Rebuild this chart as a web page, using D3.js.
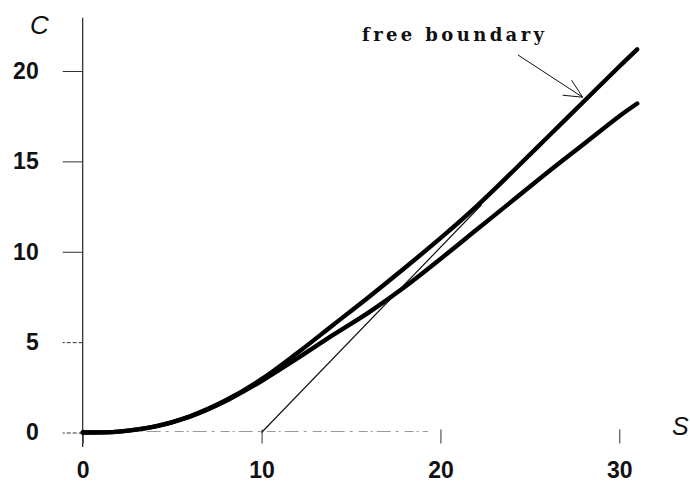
<!DOCTYPE html>
<html>
<head>
<meta charset="utf-8">
<script src="https://cdn.jsdelivr.net/npm/d3@7"></script>
<style>
  body { margin: 0; background: #fff; }
  svg { display: block; }
</style>
</head>
<body>
<div id="chart"></div>
<script>
// Datos
const sValues = [0, 2, 4, 6, 8, 10, 12, 14, 16, 18, 20, 22, 24, 26, 28, 30, 31];
const americanValues = [0, 0.05, 0.32, 0.9, 1.78, 2.95, 4.4, 5.95, 7.5, 9.1, 10.75, 12.5, 14.4, 16.35, 18.3, 20.25, 21.2];
const europeanValues = [0, 0.05, 0.32, 0.88, 1.74, 2.85, 4.1, 5.4, 6.65, 8.05, 9.6, 11.2, 12.8, 14.4, 15.95, 17.5, 18.2];
const payoffS = [10, 22.3];
const payoffValues = [0, 12.6];
const xTickValues = [0, 10, 20, 30];
const yTickValues = [0, 5, 10, 15, 20];

const width = 690;
const height = 482;

const svg = d3.select('#chart').append('svg')
    .attr('width', width)
    .attr('height', height);

// Escalas
const x = d3.scaleLinear().domain([0, 30]).range([82.7, 619.3]);
const y = d3.scaleLinear().domain([0, 20]).range([432.5, 71]);

// Eje x (línea tenue punteada)
svg.append('line')
    .attr('x1', x(0)).attr('x2', x(19.3))
    .attr('y1', y(0) - 1).attr('y2', y(0) - 1)
    .attr('stroke', '#999')
    .attr('stroke-width', 1)
    .attr('stroke-dasharray', '9,3,2,4,14,5,3,6');

// Eje y
svg.append('line')
    .attr('x1', x(0)).attr('x2', x(0))
    .attr('y1', y(22.95)).attr('y2', y(-0.8))
    .attr('stroke', '#222')
    .attr('stroke-width', 1.2);

const yAxis = svg.append('g')
    .attr('transform', `translate(${x(0)},0)`)
    .call(d3.axisLeft(y).tickValues(yTickValues).tickSize(20).tickPadding(24));
yAxis.select('.domain').remove();
yAxis.selectAll('.tick line')
    .attr('stroke', '#333')
    .attr('stroke-dasharray', d => d < 10 ? '4,2' : null);
yAxis.selectAll('.tick text')
    .attr('font-family', '"Liberation Sans", Arial, sans-serif')
    .attr('font-weight', 'bold')
    .attr('font-size', '23px')
    .attr('fill', '#111');

const xAxis = svg.append('g')
    .attr('transform', `translate(0,${y(0) - 3})`)
    .call(d3.axisBottom(x).tickValues(xTickValues).tickSize(14).tickPadding(18));
xAxis.select('.domain').remove();
xAxis.selectAll('.tick line').attr('stroke', '#333');
xAxis.selectAll('.tick text')
    .attr('font-family', '"Liberation Sans", Arial, sans-serif')
    .attr('font-weight', 'bold')
    .attr('font-size', '23px')
    .attr('fill', '#111');

// Etiquetas de los ejes
svg.append('text')
    .attr('x', 39.5).attr('y', 34)
    .attr('text-anchor', 'middle')
    .attr('font-family', '"Liberation Sans", Arial, sans-serif')
    .attr('font-style', 'italic')
    .attr('font-size', '26px')
    .attr('fill', '#111')
    .text('C');

svg.append('text')
    .attr('x', 672).attr('y', 435)
    .attr('font-family', '"Liberation Sans", Arial, sans-serif')
    .attr('font-style', 'italic')
    .attr('font-size', '25px')
    .attr('fill', '#111')
    .text('S');

// Curvas
const line = d3.line()
    .x((d, i) => x(sValues[i]))
    .y(d => y(d))
    .curve(d3.curveCatmullRom.alpha(0.5));

// Recta del pago S - E
svg.append('path')
    .datum(payoffValues)
    .attr('d', d3.line().x((d, i) => x(payoffS[i])).y(d => y(d)))
    .attr('fill', 'none')
    .attr('stroke', '#111')
    .attr('stroke-width', 1.2);

[europeanValues, americanValues].forEach(values => {
    svg.append('path')
        .datum(values)
        .attr('d', line)
        .attr('fill', 'none')
        .attr('stroke', '#000')
        .attr('stroke-width', 4.4)
        .attr('stroke-linecap', 'round');
});

// Anotación "free boundary"
svg.append('text')
    .attr('x', 362).attr('y', 40.5)
    .attr('font-family', '"DejaVu Serif", serif')
    .attr('font-weight', 'bold')
    .attr('font-size', '18px')
    .attr('textLength', 182)
    .attr('lengthAdjust', 'spacing')
    .attr('fill', '#111')
    .text('free boundary');

const tip = [x(27.95), y(18.55)];
const tail = [518, 55];
svg.append('line')
    .attr('x1', tail[0]).attr('y1', tail[1])
    .attr('x2', tip[0]).attr('y2', tip[1])
    .attr('stroke', '#111')
    .attr('stroke-width', 1);
svg.append('path')
    .attr('d', `M${tip[0] - 11},${tip[1] - 17} L${tip[0]},${tip[1]} L${tip[0] - 20},${tip[1] - 2}`)
    .attr('fill', 'none')
    .attr('stroke', '#111')
    .attr('stroke-width', 1);
</script>
</body>
</html>
